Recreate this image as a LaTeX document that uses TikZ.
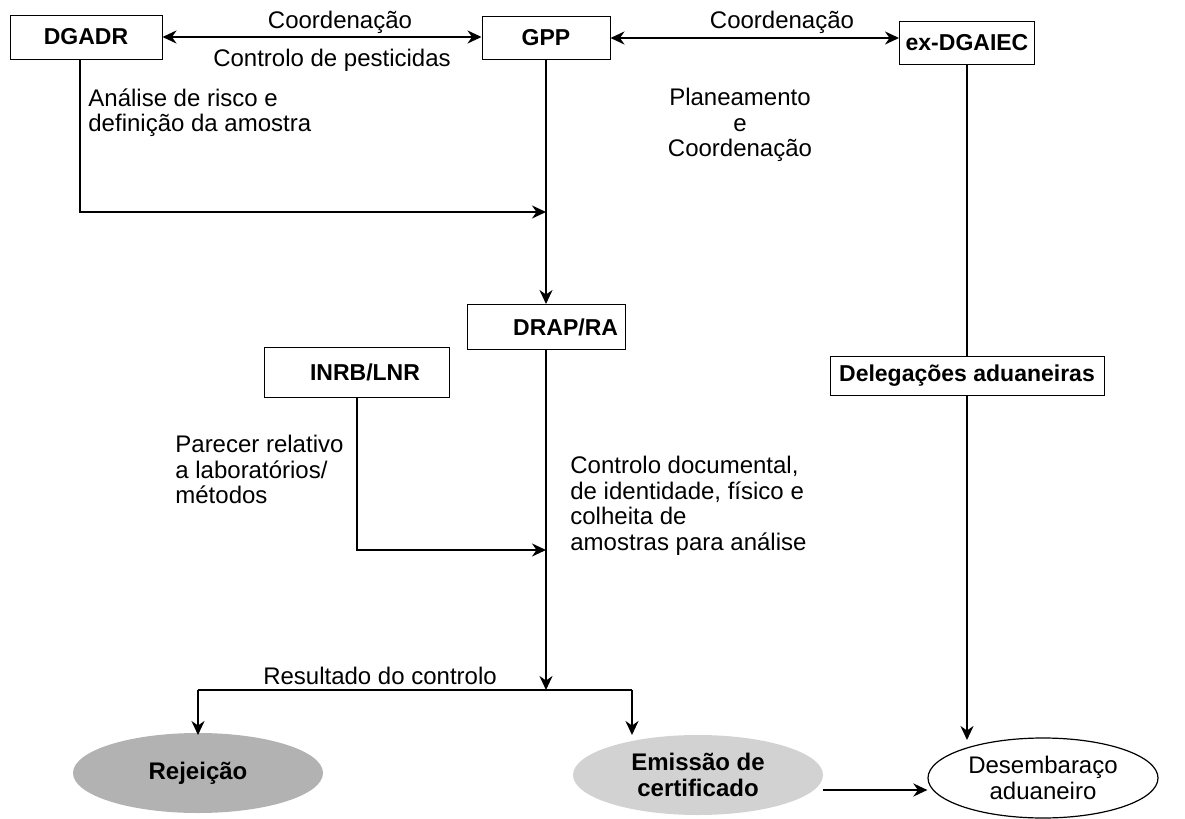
\documentclass[tikz,border=0pt]{standalone}
\usepackage{fontspec}
\setmainfont{Liberation Sans}
\usetikzlibrary{arrows.meta,shapes.geometric}
\begin{document}
\begin{tikzpicture}[x=0.5pt,y=-0.5pt,>={Stealth[length=7pt,width=6.5pt]},
  font=\fontsize{12}{12.8}\selectfont,
  box/.style={draw,line width=0.5pt,inner sep=0pt,font=\fontsize{11.5}{12.8}\selectfont\bfseries},
  oval/.style={ellipse,inner sep=0pt,minimum width=125pt,minimum height=40pt,align=center},
  conn/.style={line width=1.3pt},
  lbl/.style={inner sep=0pt,align=left}]

\useasboundingbox (0,0) rectangle (1185,819);

% The boxes
\node[box,minimum width=76pt,minimum height=22pt] (dgadr) at (86,37) {DGADR};
\node[box,minimum width=64pt,minimum height=21.5pt] (gpp) at (546,38) {GPP};
\node[box,minimum width=67.5pt,minimum height=21.5pt] (dgaiec) at (967,43) {ex-DGAIEC};
\node[box,minimum width=79pt,minimum height=22.5pt,text width=72pt,align=right] (drap) at (546,327) {DRAP/RA};
\node[box,minimum width=92.5pt,minimum height=25pt,text width=80pt,align=center] (inrb) at (357,372) {\hspace*{8pt}INRB/LNR};
\node[box,minimum width=137pt,minimum height=19.5pt] (deleg) at (967,376) {Delegações aduaneiras};

% The ovals
\node[oval,fill=gray!60,font=\fontsize{12}{12.8}\selectfont\bfseries] (rejeicao) at (198,773) {Rejeição};
\node[oval,fill=gray!35,font=\fontsize{12}{12.8}\selectfont\bfseries] (emissao) at (698,775) {Emissão de\\certificado};
\node[oval,draw,line width=0.6pt,minimum width=115pt] (desemb) at (1043,778) {Desembaraço\\aduaneiro};

% Coordenacao at the top
\draw[conn,<->] (dgadr.east) -- (gpp.west |- dgadr.east);
\node[lbl] (c1) at (340,22) {Coordenação};
\node[lbl] (pest) at (332,60) {Controlo de pesticidas};
\draw[conn,<->] (gpp.east) -- (dgaiec.west |- gpp.east);
\node[lbl] (c2) at (782,22) {Coordenação};

% GPP and DGADR down to DRAP/RA
\coordinate (j1) at (gpp.south |- 0,212);
\draw[conn,->] (gpp.south) -- (drap.north);
\draw[conn,->] ([xshift=-3pt]dgadr.south) |- (j1);
\node[lbl,anchor=north west] (risco) at (88,88) {Análise de risco e\\definição da amostra};
\node[lbl,align=center,anchor=north] (plan) at (740,88) {Planeamento\\e\\Coordenação};

% INRB/LNR into the control line
\coordinate (j2) at (drap.south |- 0,550);
\draw[conn,->] (inrb.south) |- (j2);
\node[lbl,anchor=north west] (parecer) at (175,435) {Parecer relativo\\a laboratórios/\\métodos};
\node[lbl,anchor=north west] (docum) at (570,456) {Controlo documental,\\de identidade, físico e\\colheita de\\amostras para análise};

% Resultado do controlo
\coordinate (j3) at (drap.south |- 0,690);
\coordinate (l3) at (rejeicao.north |- 0,690);
\coordinate (r3) at (632,690);
\draw[conn,->] (drap.south) -- (j3);
\draw[conn] (l3) -- (r3);
\draw[conn,->] (l3) -- (rejeicao.north |- 0,735);
\draw[conn,->] (r3) -- (632,735);
\node[lbl] (result) at (380,676) {Resultado do controlo};

% ex-DGAIEC to Desembaraco
\draw[conn] (dgaiec.south) -- (deleg.north);
\draw[conn,->] (deleg.south) -- (deleg.south |- 0,740);
\draw[conn,->] (emissao.east |- 0,790) -- (desemb.west |- 0,790);

\end{tikzpicture}
\end{document}
